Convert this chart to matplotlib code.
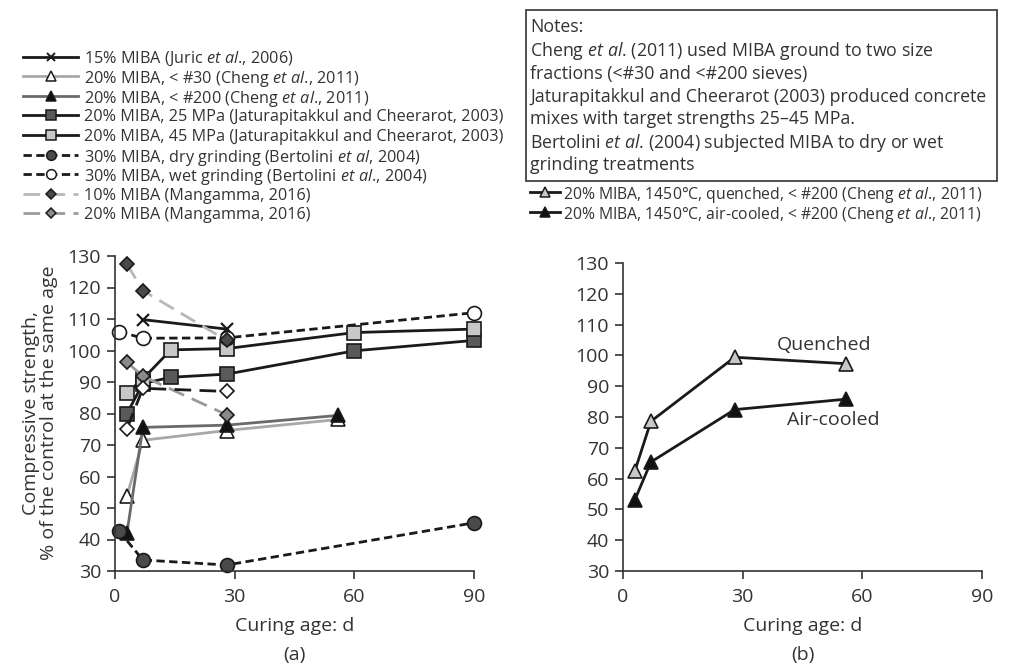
import matplotlib
matplotlib.use("Agg")
import matplotlib.pyplot as plt
from matplotlib.patches import Rectangle
from matplotlib.lines import Line2D

plt.rcParams['font.family'] = ['Open Sans', 'DejaVu Sans']
plt.rcParams['mathtext.fontset'] = 'custom'
plt.rcParams['mathtext.rm'] = 'Open Sans'
plt.rcParams['mathtext.it'] = 'Open Sans:italic'

TXT = '#333333'

# ---------------- data (a) ----------------
juric_x = [7, 28]
juric_y = [109.8, 106.8]
c30_x = [3, 7, 28, 56]
c30_y = [53.8, 71.5, 74.6, 78.1]
c200_x = [3, 7, 28, 56]
c200_y = [42.1, 75.6, 76.3, 79.4]
j25_x = [3, 7, 14, 28, 60, 90]
j25_y = [80.0, 89.5, 91.5, 92.5, 99.9, 103.2]
j45_x = [3, 7, 14, 28, 60, 90]
j45_y = [86.5, 91.0, 100.2, 100.6, 105.7, 106.8]
dry_x = [1, 7, 28, 90]
dry_y = [42.7, 33.5, 31.9, 45.3]
wet_x = [1, 7, 28, 90]
wet_y = [106.0, 103.9, 104.0, 112.0]
m10_x = [3, 7, 28]
m10_y = [127.4, 119.0, 103.2]
m20_x = [3, 7, 28]
m20_y = [96.3, 91.8, 79.6]
extra_x = [3, 7, 28]
extra_y = [75.2, 88.0, 87.0]

# ---------------- data (b) ----------------
q_x = [3, 7, 28, 56]
q_y = [62.6, 78.6, 99.4, 97.3]
a_x = [3, 7, 28, 56]
a_y = [53.2, 65.4, 82.4, 85.8]

ET = r'$\it{et\ al}$'
labels_a = [
    f'15% MIBA (Juric {ET}., 2006)',
    f'20% MIBA, < #30 (Cheng {ET}., 2011)',
    f'20% MIBA, < #200 (Cheng {ET}., 2011)',
    '20% MIBA, 25 MPa (Jaturapitakkul and Cheerarot, 2003)',
    '20% MIBA, 45 MPa (Jaturapitakkul and Cheerarot, 2003)',
    r'30% MIBA, dry grinding (Bertolini $\it{et\ al}$, 2004)',
    f'30% MIBA, wet grinding (Bertolini {ET}., 2004)',
    '10% MIBA (Mangamma, 2016)',
    '20% MIBA (Mangamma, 2016)',
]
labels_b = [
    f'20% MIBA, 1450°C, quenched, < #200 (Cheng {ET}., 2011)',
    f'20% MIBA, 1450°C, air-cooled, < #200 (Cheng {ET}., 2011)',
]
notes_lines = [
    'Notes:',
    f'Cheng {ET}. (2011) used MIBA ground to two size',
    'fractions (<#30 and <#200 sieves)',
    'Jaturapitakkul and Cheerarot (2003) produced concrete',
    'mixes with target strengths 25–45 MPa.',
    f'Bertolini {ET}. (2004) subjected MIBA to dry or wet',
    'grinding treatments',
]

W, H = 1021, 665
fig = plt.figure(figsize=(W / 100, H / 100), dpi=100)


def px_axes(x0, y0, x1, y1):
    return fig.add_axes([x0 / W, 1 - y1 / H, (x1 - x0) / W, (y1 - y0) / H])


axa = px_axes(115, 256, 474, 571)
axb = px_axes(623, 263, 982, 571)

lw = 2.0
EC = '#1a1a1a'
DASH = (0, (3, 1.6))
LDASH = (0, (6, 3))

# style table: (color, linestyle, marker, ms, mfc)
styles_a = [
    ('#1a1a1a', '-', 'x', 9, 'none'),
    ('#a8a8a8', '-', '^', 10, 'white'),
    ('#6a6a6a', '-', '^', 10, '#111111'),
    ('#1a1a1a', '-', 's', 10, '#5a5a5a'),
    ('#1a1a1a', '-', 's', 10, '#c8c8c8'),
    ('#1a1a1a', DASH, 'o', 10, '#4a4a4a'),
    ('#1a1a1a', DASH, 'o', 10, 'white'),
    ('#b8b8b8', LDASH, 'D', 7.5, '#4a4a4a'),
    ('#9a9a9a', LDASH, 'D', 7.5, '#8a8a8a'),
]
series_a = [(juric_x, juric_y), (c30_x, c30_y), (c200_x, c200_y), (j25_x, j25_y),
            (j45_x, j45_y), (dry_x, dry_y), (wet_x, wet_y), (m10_x, m10_y),
            (m20_x, m20_y)]

for (xs, ys), (c, ls, m, ms, mfc) in zip(series_a, styles_a):
    axa.plot(xs, ys, color=c, lw=lw, ls=ls, marker=m, ms=ms, mfc=mfc,
             mec=EC, mew=1.6 if m == 'x' else 1.2, clip_on=False)
axa.plot(extra_x, extra_y, color='#1a1a1a', lw=lw, ls=LDASH, marker='D', ms=7.5,
         mfc='white', mec=EC, mew=1.2, clip_on=False)

styles_b = [
    ('#1a1a1a', '-', '^', 10, '#c8c8c8'),
    ('#1a1a1a', '-', '^', 10, '#111111'),
]
for (xs, ys), (c, ls, m, ms, mfc) in zip([(q_x, q_y), (a_x, a_y)], styles_b):
    axb.plot(xs, ys, color=c, lw=lw, ls=ls, marker=m, ms=ms, mfc=mfc,
             mec=EC, mew=1.2, clip_on=False)

axb.text(38.5, 103.5, 'Quenched', fontsize=14, color=TXT, va='center', ha='left')
axb.text(41.2, 78.9, 'Air-cooled', fontsize=14, color=TXT, va='center', ha='left')

for ax, lab in ((axa, '(a)'), (axb, '(b)')):
    ax.set_xlim(0, 90)
    ax.set_ylim(30, 130)
    ax.set_xticks([0, 30, 60, 90])
    ax.set_yticks(range(30, 131, 10))
    for s in ('top', 'right'):
        ax.spines[s].set_visible(False)
    for s in ('left', 'bottom'):
        ax.spines[s].set_color('#333333')
        ax.spines[s].set_linewidth(1.2)
    ax.tick_params(direction='out', length=6, width=1.2, colors='#333333',
                   labelsize=14, labelcolor=TXT, pad=4)
    ax.tick_params(axis='x', pad=6)
    bb = ax.get_position()
    xc = (bb.x0 + bb.x1) / 2
    fig.text(xc, 1 - 626 / H, 'Curing age: d', fontsize=14, color=TXT,
             ha='center', va='center')
    fig.text(xc, 1 - 655 / H, lab, fontsize=14, color=TXT,
             ha='center', va='center')

fig.text(31 / W, 1 - 413 / H, 'Compressive strength,', rotation=90, fontsize=14,
         color=TXT, ha='center', va='center')
fig.text(49 / W, 1 - 413 / H, '% of the control at the same age', rotation=90,
         fontsize=14, color=TXT, ha='center', va='center')


def legend_rows(styles, labels, x0, x1, xt, y0, dy, fs, ms_scale):
    for i, ((c, ls, m, ms, mfc), lab) in enumerate(zip(styles, labels)):
        y = 1 - (y0 + dy * i) / H
        fig.add_artist(Line2D([x0 / W, x1 / W], [y, y], color=c, lw=lw, ls=ls,
                              transform=fig.transFigure))
        fig.add_artist(Line2D([(x0 + x1) / 2 / W], [y], color=c, lw=0, marker=m,
                              ms=ms * ms_scale, mfc=mfc, mec=EC,
                              mew=1.4 if m == 'x' else 1.1,
                              transform=fig.transFigure))
        fig.text(xt / W, y, lab, fontsize=fs, color=TXT, ha='left', va='center_baseline')


legend_rows(styles_a, labels_a, 23, 78, 84, 56.5, 19.6, 11.7, 0.7)
legend_rows(styles_b, labels_b, 530, 560, 563, 192, 19.6, 11.3, 0.7)

# Notes box
fig.patches.append(Rectangle((526 / W, 1 - 181 / H), (997 - 526) / W, (181 - 10) / H,
                             transform=fig.transFigure, fill=False,
                             edgecolor='#333333', lw=1.2))
for i, line in enumerate(notes_lines):
    fig.text(530 / W, 1 - (25.5 + 23 * i) / H, line, fontsize=12.8, color=TXT,
             va='center_baseline', ha='left')

fig.savefig('out.png', dpi=100)
